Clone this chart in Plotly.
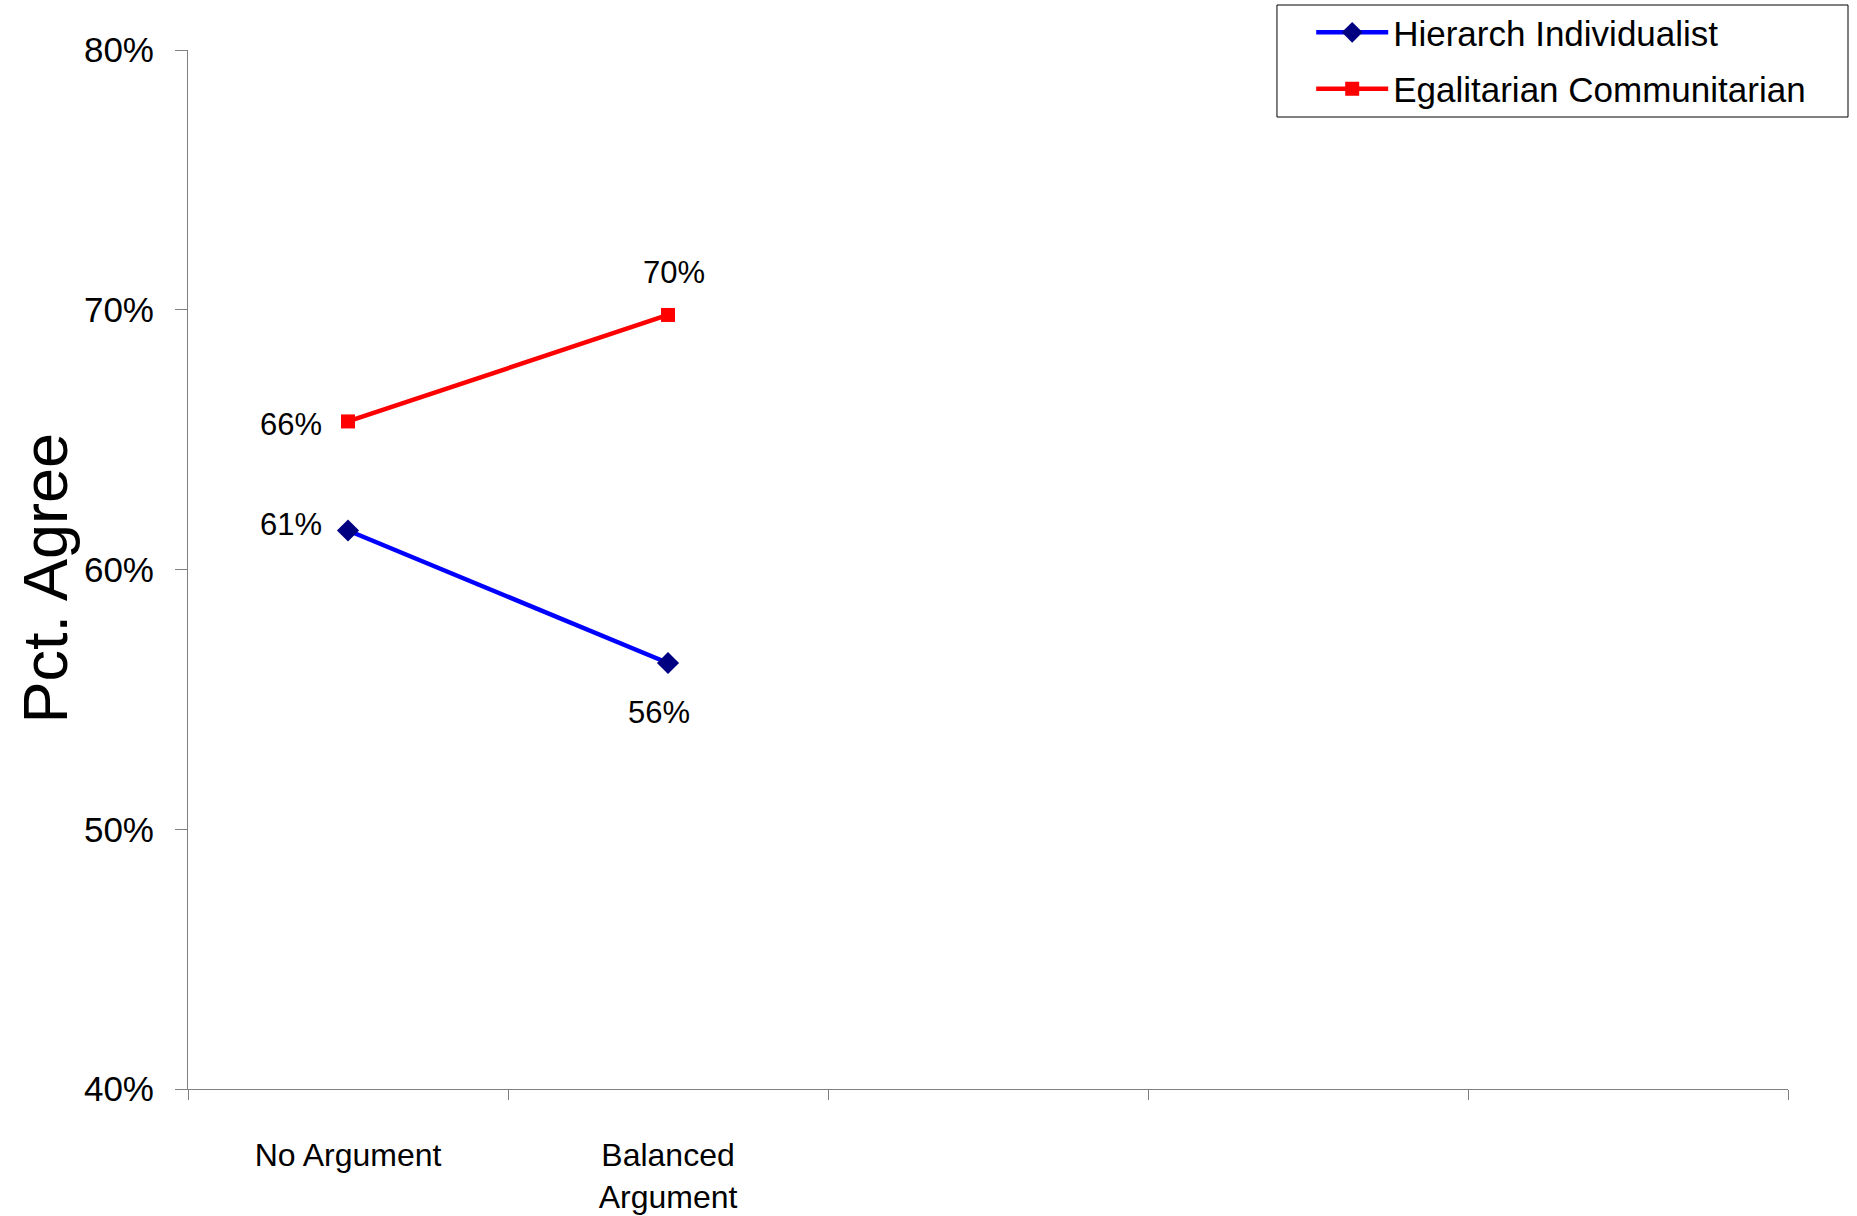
import plotly.graph_objects as go

categories = ["No Argument", "Balanced<br>Argument", " ", "  ", "   "]
plotted_categories = ["No Argument", "Balanced<br>Argument"]
hi_values = [0.615, 0.564]
hi_labels = ["61%", "56%"]
ec_values = [0.657, 0.698]
ec_labels = ["66%", "70%"]
series_names = ["Hierarch Individualist", "Egalitarian Communitarian"]
y_ticks = [0.4, 0.5, 0.6, 0.7, 0.8]

FONT = "Liberation Sans, Arial, sans-serif"

fig = go.Figure()
fig.add_trace(go.Scatter(
    x=plotted_categories, y=hi_values, name=series_names[0],
    legendgroup="a", mode="lines+markers",
    line=dict(color="#0000FF", width=4.5),
    marker=dict(symbol="diamond", size=17, color="#000080", line=dict(width=0)),
))
fig.add_trace(go.Scatter(
    x=plotted_categories, y=ec_values, name=series_names[1],
    legendgroup="b", mode="lines+markers",
    line=dict(color="#FF0000", width=4.5),
    marker=dict(symbol="square", size=14, color="#FF0000", line=dict(width=0)),
))

# data labels (offsets are styling only)
hi_offsets = [dict(xanchor="right", yanchor="middle", xshift=-24, yshift=6),
              dict(xanchor="center", yanchor="middle", xshift=-9, yshift=-49)]
ec_offsets = [dict(xanchor="right", yanchor="middle", xshift=-24, yshift=-3),
              dict(xanchor="center", yanchor="middle", xshift=6, yshift=42)]
for vals, labs, offs in [(hi_values, hi_labels, hi_offsets), (ec_values, ec_labels, ec_offsets)]:
    for cat, v, lab, o in zip(plotted_categories, vals, labs, offs):
        fig.add_annotation(x=cat, y=v, text=lab, showarrow=False,
                           font=dict(size=31, color="black", family=FONT), **o)

fig.add_annotation(
    text="Pct. Agree", textangle=-90, showarrow=False,
    xref="paper", yref="paper", x=-0.0895, y=0.492,
    xanchor="center", yanchor="middle",
    font=dict(size=63, color="black", family=FONT),
)

# legend frame
fig.add_shape(type="rect", xref="paper", yref="paper",
              x0=0.6806, x1=1.0375, y0=0.9355, y1=1.0433,
              line=dict(color="black", width=1), fillcolor="white", layer="below")

fig.update_layout(
    width=1857, height=1216,
    margin=dict(l=188, r=69, t=50, b=127, autoexpand=False),
    paper_bgcolor="white", plot_bgcolor="white",
    font=dict(family=FONT, color="black"),
    showlegend=True,
    legend=dict(
        x=0.702, y=1.0452, xanchor="left", yanchor="top",
        borderwidth=0, bgcolor="rgba(0,0,0,0)",
        font=dict(size=35, color="black", family=FONT),
        itemwidth=72, tracegroupgap=8,
    ),
    xaxis=dict(
        type="category", categoryorder="array", categoryarray=categories,
        range=[-0.5, len(categories) - 0.5],
        tickmode="array", tickvals=categories, ticktext=categories,
        tickson="boundaries", ticks="outside", ticklen=10,
        tickcolor="#808080", tickwidth=1,
        showline=True, linecolor="#808080", linewidth=1,
        showgrid=False, zeroline=False,
        tickfont=dict(size=32, color="black", family=FONT),
        ticklabelstandoff=38,
    ),
    yaxis=dict(
        range=[0.4, 0.8], tickvals=y_ticks, tickformat=".0%",
        ticks="outside", ticklen=12, tickcolor="#808080", tickwidth=1,
        showline=True, linecolor="#808080", linewidth=1,
        showgrid=False, zeroline=False,
        tickfont=dict(size=35, color="black", family=FONT),
        ticklabelstandoff=14,
    ),
)

fig.write_html(
    "out.html",
    config={"displayModeBar": False},
    post_script="document.body.style.margin='0';document.body.style.overflow='hidden';",
)
